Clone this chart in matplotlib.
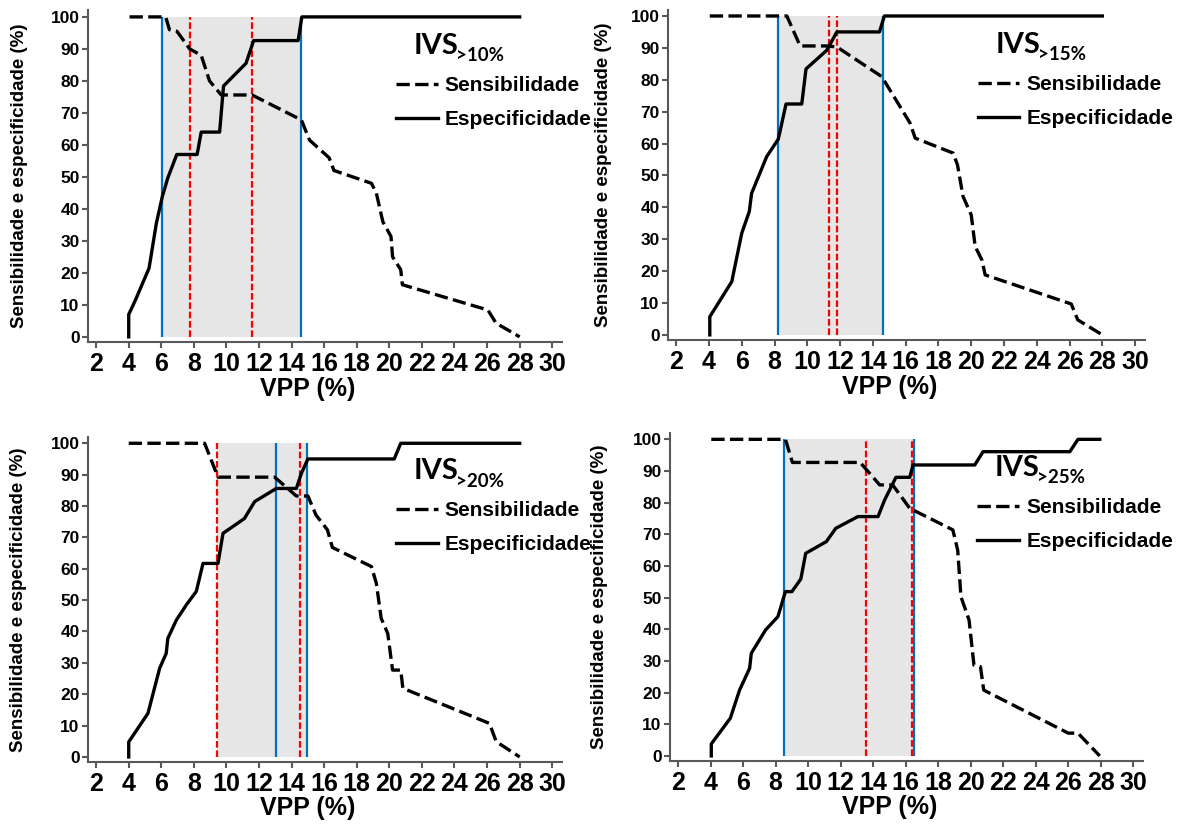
import matplotlib
matplotlib.use("Agg")
import matplotlib.pyplot as plt

# ---------------- data ----------------
subscripts = [">10%", ">15%", ">20%", ">25%"]
series_names = ["Sensibilidade", "Especificidade"]
x_ticks = list(range(2, 31, 2))
y_ticks = list(range(0, 101, 10))

# Panel 1: IVS >10%
sens_x1 = [4.05, 6.27, 6.5, 6.96, 7.74, 8.45, 8.96, 9.68, 11.57, 14.6, 15.1, 16.3, 16.6, 18.9, 19.2, 19.6, 20.1, 20.2, 20.7, 20.8, 26.05, 26.55, 28.0]
sens_y1 = [100, 100, 96, 95.5, 90, 88, 80, 75.6, 75.6, 67.8, 61.5, 56, 52, 48, 45, 36, 31.4, 25, 21, 16.3, 8.4, 4.3, 0]
spec_x1 = [4.0, 4.0, 4.42, 5.25, 5.7, 6.06, 6.4, 6.5, 6.95, 8.2, 8.45, 9.58, 9.82, 11.2, 11.67, 14.4, 14.63, 28.0]
spec_y1 = [0, 7, 11.6, 21.5, 35.6, 43.8, 49.7, 51, 57, 57, 64, 64, 78.4, 85.5, 92.6, 92.6, 100, 100]
blue1 = [6.02, 14.55]
red1 = [7.78, 11.57]
gray1 = [6.02, 14.55]

# Panel 2: IVS >15%
sens_x2 = [4.05, 8.75, 9.56, 11.18, 11.8, 14.54, 16.27, 16.58, 18.9, 19.16, 19.5, 20.0, 20.24, 20.65, 20.85, 26.1, 26.5, 28.0]
sens_y2 = [100, 100, 90.6, 90.6, 90.3, 81, 66.4, 61.7, 57, 53.3, 43.4, 37.6, 27.7, 23.5, 18.8, 9.7, 4.7, 0]
spec_x2 = [4.05, 4.05, 5.39, 6.0, 6.46, 6.6, 7.52, 8.23, 8.7, 9.66, 9.92, 11.18, 11.8, 14.4, 14.7, 28.0]
spec_y2 = [0, 5.7, 16.7, 31.9, 38.7, 44.4, 55.9, 61.4, 72.4, 72.4, 83.4, 89.2, 95, 95, 100, 100]
blue2 = [8.23, 14.6]
red2 = [11.34, 11.83]
gray2 = [8.23, 14.6]

# Panel 3: IVS >20%
sens_x3 = [4.0, 8.66, 9.48, 12.96, 14.29, 15.0, 15.5, 16.2, 16.5, 18.9, 19.2, 19.5, 19.9, 20.2, 20.7, 20.83, 26.15, 26.56, 28.0]
sens_y3 = [100, 100, 89.2, 89.2, 83.2, 83.2, 77.1, 72.4, 66.8, 60.7, 55.4, 44.2, 39.4, 27.7, 27.7, 21.9, 10.7, 4.9, 0]
spec_x3 = [4.0, 4.0, 5.18, 5.9, 6.3, 6.4, 6.93, 7.54, 8.15, 8.56, 9.48, 9.79, 11.1, 11.73, 13.06, 14.29, 14.6, 15.0, 20.3, 20.7, 28.0]
spec_y3 = [0, 4.8, 13.9, 28.3, 33, 37.8, 43.7, 48.5, 52.8, 61.7, 61.7, 71.3, 76, 81.4, 85.6, 85.6, 90.4, 95, 95, 100, 100]
blue3 = [13.02, 14.96]
red3 = [9.4, 14.5]
gray3 = [9.45, 15.0]

# Panel 4: IVS >25%
sens_x4 = [4.04, 8.6, 9.03, 13.2, 14.4, 15.2, 16.25, 18.9, 19.2, 19.4, 19.9, 20.2, 20.6, 20.8, 26.0, 26.6, 27.94]
sens_y4 = [100, 100, 92.7, 92.7, 85.6, 85.6, 78.2, 71.4, 65, 50.3, 42.9, 28.7, 28.2, 20.8, 7.2, 7.2, 0]
spec_x4 = [4.04, 4.04, 5.21, 5.78, 6.4, 6.5, 7.38, 8.14, 8.6, 9.0, 9.55, 9.85, 11.12, 11.7, 13.06, 14.3, 14.7, 15.4, 16.25, 16.45, 20.25, 20.76, 26.1, 26.6, 27.94]
spec_y4 = [0, 3.8, 11.9, 20.8, 27.7, 32.4, 39.8, 44, 51.9, 51.9, 55.9, 64, 67.7, 71.9, 75.6, 75.6, 80.8, 88, 88, 91.9, 91.9, 96.1, 96.1, 100, 100]
blue4 = [8.51, 16.5]
red4 = [13.57, 16.39]
gray4 = [8.51, 16.5]

panels = [
    (sens_x1, sens_y1, spec_x1, spec_y1, blue1, red1, gray1),
    (sens_x2, sens_y2, spec_x2, spec_y2, blue2, red2, gray2),
    (sens_x3, sens_y3, spec_x3, spec_y3, blue3, red3, gray3),
    (sens_x4, sens_y4, spec_x4, spec_y4, blue4, red4, gray4),
]

# ---------------- layout (pixels -> fractions) ----------------
W, H = 1185, 827
# (left, top, right, bottom) in pixels
boxes = [
    (88, 10.5, 562, 342),
    (668, 9.6, 1145, 340),
    (88, 437, 562, 762),
    (670, 433, 1143, 761),
]
ylabel_x_px = [20, 604, 19, 600]

BASE = "Liberation Sans"
SPINE = "#595959"
BLUE = "#0070C0"
RED = "#FF0000"
GRAY = "#E6E6E6"

fig = plt.figure(figsize=(W / 100, H / 100), dpi=100)

for i, (sx, sy, px, py, blue, red, gray) in enumerate(panels):
    l, t, r, b = boxes[i]
    ax = fig.add_axes([l / W, 1 - b / H, (r - l) / W, (b - t) / H])
    ax.set_xlim(1.5, 30.6)
    ax.set_ylim(-1.6, 102)

    ax.fill_between(gray, 0, 100, color=GRAY, linewidth=0, zorder=1)
    ax.vlines(blue, 0, 100, colors=BLUE, linewidth=1.6, zorder=2)
    ax.vlines(red, 0, 100, colors=RED, linewidth=1.6, linestyles=(0, (3, 1.2)), zorder=2)

    ax.plot(sx, sy, color="black", linewidth=2.4, linestyle=(0, (4, 1.6)),
            label=series_names[0], zorder=3)
    ax.plot(px, py, color="black", linewidth=2.4, label=series_names[1], zorder=3)

    for side in ("top", "right"):
        ax.spines[side].set_visible(False)
    for side in ("left", "bottom"):
        ax.spines[side].set_color(SPINE)
        ax.spines[side].set_linewidth(1.5)

    ax.set_xticks(x_ticks)
    ax.set_yticks(y_ticks)
    ax.tick_params(axis="x", colors=SPINE, labelcolor="black", length=4.5, width=1.5,
                   pad=3, labelsize=18)
    ax.tick_params(axis="y", colors=SPINE, labelcolor="black", length=4, width=1.5,
                   pad=2, labelsize=12.5)
    for lab in ax.get_xticklabels() + ax.get_yticklabels():
        lab.set_fontfamily(BASE)
        lab.set_fontweight("bold")

    ax.set_xlabel("VPP (%)", fontsize=18, fontweight="bold", family=BASE)
    ax.xaxis.set_label_coords((15 - 1.5) / 29.1, -0.105)
    ax.set_ylabel("Sensibilidade e especificidade (%)", fontsize=13.5,
                  fontweight="bold", family=BASE)
    ax.yaxis.set_label_coords((ylabel_x_px[i] - l) / (r - l), 0.5)
    ax.yaxis.label.set_verticalalignment("center")

    ax.text(21.5, 88.5, "IVS", fontsize=21, fontweight="bold", family="Lato",
            ha="left", va="baseline", zorder=5)
    ax.text(24.1, 86.2, subscripts[i], fontsize=13.5, fontweight="bold", family="Lato",
            ha="left", va="baseline", zorder=5)

    ax.legend(loc="upper left", bbox_to_anchor=(20.4, 81.5),
              bbox_transform=ax.transData, frameon=False, borderpad=0,
              borderaxespad=0, handlelength=2.0, handletextpad=0.35,
              labelspacing=0.72, prop={"family": BASE, "weight": "bold", "size": 15})

fig.savefig("out.png", dpi=100)
